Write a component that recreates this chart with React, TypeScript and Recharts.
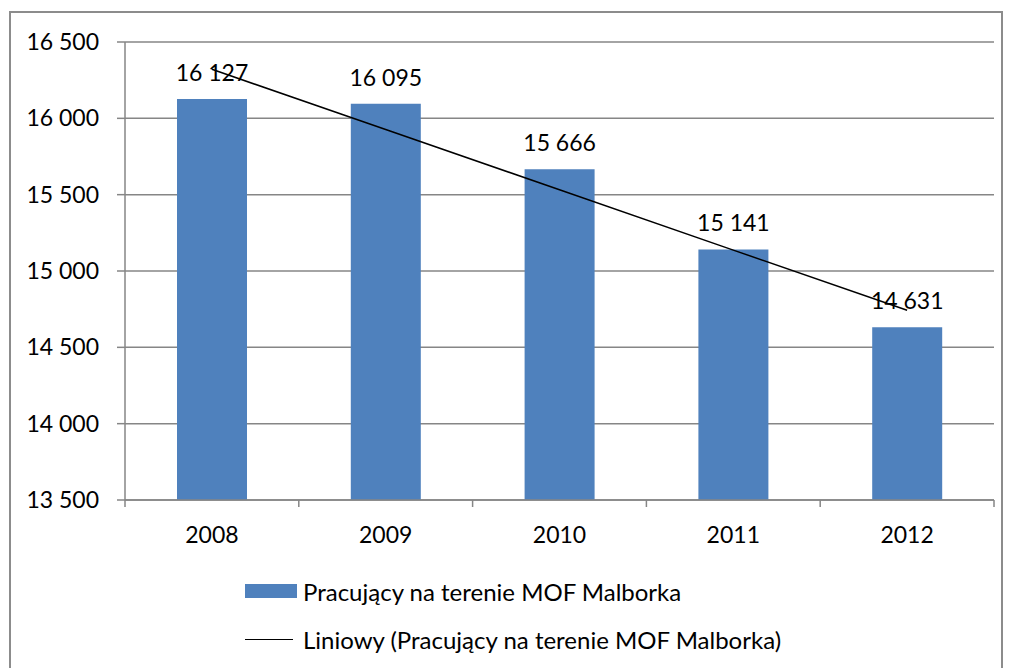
import React from "react";
import {
  ComposedChart,
  Bar,
  Line,
  XAxis,
  YAxis,
  CartesianGrid,
  LabelList,
} from "recharts";

const years = ["2008", "2009", "2010", "2011", "2012"];
const workers = [16127, 16095, 15666, 15141, 14631];
const trend = [16321, 15927, 15532, 15137, 14743];
const yTicks = [13500, 14000, 14500, 15000, 15500, 16000, 16500];

const seriesName = "Pracujący na terenie MOF Malborka";
const trendName = "Liniowy (Pracujący na terenie MOF Malborka)";

const data = years.map((year, i) => ({ year, workers: workers[i], trend: trend[i] }));

const FONT = "Lato, 'Open Sans', sans-serif";
const GRID = "#868686";
const BLUE = "#4F81BD";
const HALF_BAND = (994 - 125) / years.length / 2;

const fmt = (v: any) => {
  const s = String(Math.round(Number(v)));
  return s.replace(/\B(?=(\d{3})+(?!\d))/g, " ");
};

const XTick = (props: any) => {
  const { x, y, payload, index, visibleTicksCount } = props;
  const last = index === visibleTicksCount - 1;
  return (
    <g>
      <line x1={x - HALF_BAND} x2={x - HALF_BAND} y1={y} y2={y + 7} stroke={GRID} strokeWidth={1.5} />
      {last && (
        <line x1={x + HALF_BAND} x2={x + HALF_BAND} y1={y} y2={y + 7} stroke={GRID} strokeWidth={1.5} />
      )}
      <text x={x} y={y + 43} textAnchor="middle" fill="#000" fontSize={23} fontFamily={FONT}>
        {payload.value}
      </text>
    </g>
  );
};

const LegendBox = () => (
  <div style={{ position: "absolute", left: 245, top: 576, fontFamily: FONT, fontSize: 24, color: "#000" }}>
    <div style={{ display: "flex", alignItems: "center", height: 30 }}>
      <div style={{ width: 52, height: 14, background: BLUE, marginRight: 6 }} />
      <span>{seriesName}</span>
    </div>
    <div style={{ display: "flex", alignItems: "center", height: 30, marginTop: 18 }}>
      <div style={{ width: 48, height: 0, borderTop: "1.5px solid #000", marginRight: 10 }} />
      <span>{trendName}</span>
    </div>
  </div>
);

export default function App() {
  return (
    <div style={{ position: "fixed", left: 0, top: 0, width: 1011, height: 668, background: "#fff", overflow: "hidden" }}>
      <div
        style={{
          position: "absolute",
          left: 9,
          top: 11,
          width: 994,
          height: 670,
          border: "2px solid #8c8c8c",
          boxSizing: "border-box",
        }}
      />
      <ComposedChart
        width={1011}
        height={668}
        data={data}
        margin={{ top: 42, right: 17, left: 8, bottom: 118 }}
        style={{ position: "absolute", left: 0, top: 0 }}
      >
        <CartesianGrid vertical={false} stroke={GRID} strokeWidth={1.5} />
        <XAxis
          dataKey="year"
          axisLine={{ stroke: GRID, strokeWidth: 1.5 }}
          tickLine={false}
          tickSize={0}
          tickMargin={0}
          height={50}
          tick={<XTick />}
          interval={0}
        />
        <YAxis
          domain={[13500, 16500]}
          ticks={yTicks}
          width={117}
          tickSize={8}
          tickMargin={18}
          axisLine={{ stroke: GRID, strokeWidth: 1.5 }}
          tickLine={{ stroke: GRID, strokeWidth: 1.5 }}
          tickFormatter={fmt}
          tick={{ fill: "#000", fontSize: 23, fontFamily: FONT }}
          allowDataOverflow
        />
        <Bar dataKey="workers" name={seriesName} fill={BLUE} barSize={70} isAnimationActive={false}>
          <LabelList
            dataKey="workers"
            position="top"
            offset={18}
            formatter={fmt as any}
            style={{ fill: "#000", fontSize: 23, fontFamily: FONT }}
          />
        </Bar>
        <Line
          dataKey="trend"
          name={trendName}
          stroke="#000"
          strokeWidth={1.5}
          dot={false}
          activeDot={false}
          isAnimationActive={false}
        />
      </ComposedChart>
      <LegendBox />
    </div>
  );
}
